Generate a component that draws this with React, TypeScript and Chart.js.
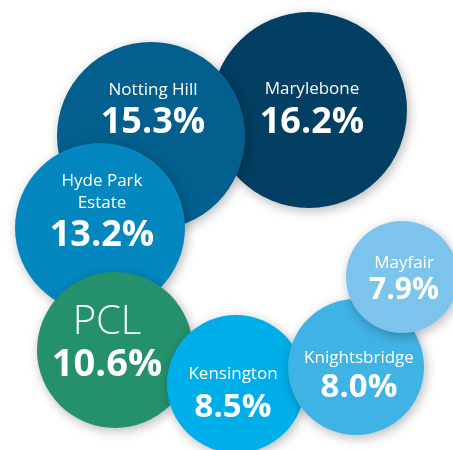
import React, { useEffect, useRef } from "react";
import { Chart, registerables } from "chart.js";

Chart.register(...registerables);

// Data
const areaNames: string[][] = [
  ["Marylebone"],
  ["Notting Hill"],
  ["Hyde Park", "Estate"],
  ["PCL"],
  ["Kensington"],
  ["Knightsbridge"],
  ["Mayfair"],
];
const growth: number[] = [16.2, 15.3, 13.2, 10.6, 8.5, 8.0, 7.9];
const posX: number[] = [309, 151, 100, 115, 236, 356, 402];
const posY: number[] = [110, 136, 228, 350, 384, 367, 277];
const radii: number[] = [98, 94, 85, 78, 69, 68, 56];
const colors: string[] = [
  "#023f62",
  "#03608e",
  "#0487bf",
  "#24906c",
  "#00aeea",
  "#40b3e6",
  "#7dc4ec",
];

// label layout (offsets from bubble centre, name font, value font)
const labelDx: number[] = [3, 2, 2, -8, -3, 3, 2];
const nameDy: number[] = [-22, -47, -48, -30, -11, -10, -15];
const valueDy: number[] = [10, -16, 5, 12, 21, 18, 11];
const nameSize: number[] = [17, 17, 17, 40, 17, 17, 17];
const valueSize: number[] = [36, 36, 36, 38, 33, 33, 30];

const FONT = "'Open Sans', 'Noto Sans', sans-serif";

const shadowPlugin = {
  id: "bubbleShadow",
  beforeDatasetsDraw(chart: any) {
    const ctx = chart.ctx;
    ctx.save();
    ctx.shadowColor = "rgba(0,0,0,0.28)";
    ctx.shadowBlur = 12;
    ctx.shadowOffsetX = 2;
    ctx.shadowOffsetY = 3;
  },
  afterDatasetsDraw(chart: any) {
    chart.ctx.restore();
  },
};

const labelPlugin = {
  id: "bubbleLabels",
  afterDraw(chart: any) {
    const ctx = chart.ctx;
    const meta = chart.getDatasetMeta(0);
    ctx.save();
    ctx.fillStyle = "#ffffff";
    ctx.textAlign = "center";
    ctx.textBaseline = "alphabetic";
    meta.data.forEach((el: any, i: number) => {
      const cx = el.x + labelDx[i];
      const cy = el.y;
      const lines = areaNames[i];
      const ns = nameSize[i];
      ctx.font = `${i === 3 ? 300 : 400} ${ns}px ${FONT}`;
      lines.forEach((line, j) => {
        const y = cy + nameDy[i] + j * 22 + ns * 0.36;
        ctx.fillText(line, cx, y);
      });
      const vs = valueSize[i];
      ctx.font = `700 ${vs}px ${FONT}`;
      ctx.fillText(growth[i].toFixed(1) + "%", cx, cy + valueDy[i] + vs * 0.36);
    });
    ctx.restore();
  },
};

export default function App() {
  const ref = useRef<HTMLCanvasElement>(null);

  useEffect(() => {
    document.body.style.margin = "0";
    if (!ref.current) return;
    const chart = new Chart(ref.current, {
      type: "bubble",
      data: {
        datasets: [
          {
            data: growth.map((_, i) => ({ x: posX[i], y: posY[i], r: radii[i] })),
            backgroundColor: colors,
            borderWidth: 0,
            hoverBorderWidth: 0,
            hoverRadius: 0,
          } as any,
        ],
      },
      options: {
        animation: false,
        responsive: false,
        maintainAspectRatio: false,
        layout: { padding: 0, autoPadding: false },
        plugins: {
          legend: { display: false },
          tooltip: { enabled: false },
        },
        events: [],
        scales: {
          x: { type: "linear", min: 0, max: 453, display: false },
          y: { type: "linear", min: 0, max: 450, reverse: true, display: false },
        },
      },
      plugins: [shadowPlugin, labelPlugin],
    });
    return () => chart.destroy();
  }, []);

  return (
    <div style={{ width: 453, height: 450, background: "#ffffff" }}>
      <canvas ref={ref} width={453} height={450} />
    </div>
  );
}
